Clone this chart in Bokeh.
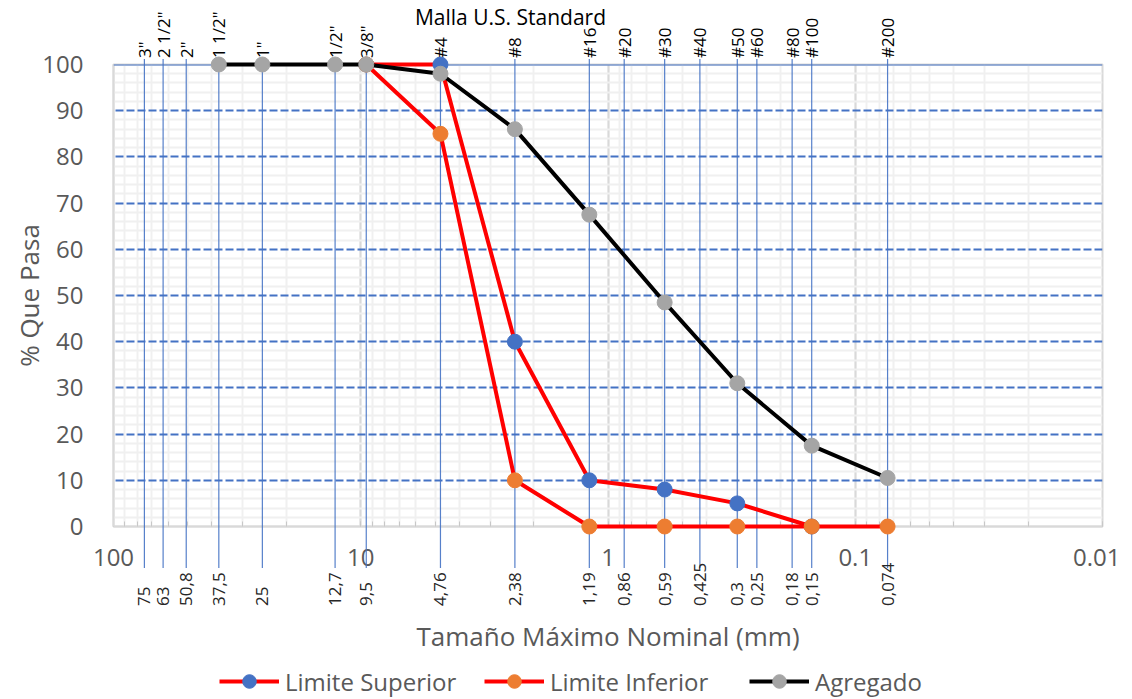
import math
from bokeh.plotting import figure
from bokeh.layouts import column
from bokeh.models import (Range1d, FixedTicker, LogTicker, CustomJSTickFormatter,
                          Legend, LegendItem, Span, ColumnDataSource)
from bokeh.core.properties import value
from bokeh.embed import file_html
from bokeh.resources import INLINE

# ---- data ----
sieve_mm = [75, 63, 50.8, 37.5, 25, 12.7, 9.5, 4.76, 2.38, 1.19, 0.86, 0.59,
            0.425, 0.3, 0.25, 0.18, 0.15, 0.074]
sieve_names = ['3"', '2 1/2"', '2"', '1 1/2"', '1"', '1/2"', '3/8"', '#4', '#8',
               '#16', '#20', '#30', '#40', '#50', '#60', '#80', '#100', '#200']
sieve_mm_labels = ["75", "63", "50,8", "37,5", "25", "12,7", "9,5", "4,76", "2,38",
                   "1,19", "0,86", "0,59", "0,425", "0,3", "0,25", "0,18", "0,15", "0,074"]

sup_x = [9.5, 4.76, 2.38, 1.19, 0.59, 0.3, 0.15]
sup_y = [100, 100, 40, 10, 8, 5, 0]

inf_x = [9.5, 4.76, 2.38, 1.19, 0.59, 0.3, 0.15, 0.074]
inf_y = [100, 85, 10, 0, 0, 0, 0, 0]

agr_x = [37.5, 25, 12.7, 9.5, 4.76, 2.38, 1.19, 0.59, 0.3, 0.15, 0.074]
agr_y = [100, 100, 100, 100, 98, 86, 67.5, 48.5, 31, 17.5, 10.5]

series_names = ["Limite Superior", "Limite Inferior", "Agregado"]
y_ticks = list(range(0, 101, 10))

# ---- styles ----
FONT = "Open Sans"
GREY_TXT = "#595959"
BLUE = "#4472C4"
line_colors = ["#FF0000", "#FF0000", "#000000"]
marker_colors = [BLUE, "#ED7D31", "#A5A5A5"]

# ---- main figure ----
p = figure(width=1120, height=663, x_axis_type="log",
           x_range=Range1d(100, 0.01), y_range=Range1d(0, 100),
           output_backend="svg", toolbar_location=None,
           min_border_left=113, min_border_right=18,
           min_border_top=64, min_border_bottom=137)
p.outline_line_color = "#D9D9D9"
p.outline_line_width = 2
p.background_fill_color = "white"
p.border_fill_color = "white"

# x axis
p.xaxis.ticker = LogTicker(num_minor_ticks=10)
p.xaxis.formatter = CustomJSTickFormatter(code="return String(parseFloat(tick.toPrecision(3)))")
p.xaxis.major_tick_line_color = None
p.xaxis.minor_tick_in = 5
p.xaxis.minor_tick_out = 0
p.xaxis.minor_tick_line_color = "#C8C8C8"
p.xaxis.axis_line_color = "#D9D9D9"
p.xaxis.axis_line_width = 2
p.xaxis.major_label_standoff = 16
p.xaxis.major_label_text_font = FONT
p.xaxis.major_label_text_font_size = "24px"
p.xaxis.major_label_text_color = GREY_TXT
p.xaxis.axis_label = "Tamaño Máximo Nominal (mm)"
p.xaxis.axis_label_text_font = FONT
p.xaxis.axis_label_text_font_size = "26px"
p.xaxis.axis_label_text_font_style = "normal"
p.xaxis.axis_label_text_color = GREY_TXT
p.xaxis.axis_label_standoff = 49

# y axis
p.yaxis.ticker = FixedTicker(ticks=y_ticks)
p.yaxis.major_tick_line_color = None
p.yaxis.minor_tick_line_color = None
p.yaxis.axis_line_color = "#D9D9D9"
p.yaxis.axis_line_width = 2
p.yaxis.major_label_standoff = 24
p.yaxis.major_label_text_font = FONT
p.yaxis.major_label_text_font_size = "24px"
p.yaxis.major_label_text_color = GREY_TXT
p.yaxis.axis_label = "% Que Pasa"
p.yaxis.axis_label_text_font = FONT
p.yaxis.axis_label_text_font_size = "26px"
p.yaxis.axis_label_text_font_style = "normal"
p.yaxis.axis_label_text_color = GREY_TXT
p.yaxis.axis_label_standoff = -8

# grids
p.xgrid.grid_line_color = "#D9D9D9"
p.xgrid.grid_line_width = 2
p.xgrid.minor_grid_line_color = "#F0F0F0"
p.xgrid.minor_grid_line_width = 2
p.ygrid.ticker = FixedTicker(ticks=y_ticks[1:-1],
                             minor_ticks=[v for v in range(2, 100, 2) if v % 10])
p.ygrid.grid_line_color = BLUE
p.ygrid.grid_line_width = 2
p.ygrid.grid_line_dash = "8 3"
p.ygrid.minor_grid_line_color = "#F0F0F0"
p.ygrid.minor_grid_line_width = 2
p.add_layout(Span(location=y_ticks[-1], dimension="width", line_color=BLUE, line_width=2))

# sieve lines and labels
src = ColumnDataSource(dict(x=sieve_mm, name=sieve_names, lab=sieve_mm_labels))
seg = p.segment(x0="x", x1="x", y0=-9, y1=101.2, source=src,
                line_color=BLUE, line_width=1.2, line_alpha=0.9)
seg.level = "annotation"

t1 = p.text(x="x", y=101.4, text="name", source=src, angle=math.pi / 2,
            text_align="left", text_baseline="middle",
            text_font=value(FONT), text_font_size="17px", text_color="#000000")
t1.level = "overlay"
t2 = p.text(x="x", y=-17.2, text="lab", source=src, angle=math.pi / 2,
            text_align="left", text_baseline="middle",
            text_font=value(FONT), text_font_size="17px", text_color="#262626")
t2.level = "overlay"
t3 = p.text(x=[2.48], y=[110.2], text=["Malla U.S. Standard"],
            text_align="center", text_baseline="middle",
            text_font=value(FONT), text_font_size="21px", text_color="#000000")
t3.level = "overlay"

# series
series = [(sup_x, sup_y), (inf_x, inf_y), (agr_x, agr_y)]
for (xs, ys), lc, mc in zip(series, line_colors, marker_colors):
    rl = p.line(xs, ys, line_color=lc, line_width=4)
    rm = p.scatter(xs, ys, size=15, fill_color=mc, line_color=mc)
    rl.level = "overlay"
    rm.level = "overlay"

# ---- legend strip (own small figure, same styles; its swatch renderers
#      hold a single point kept outside the strip's visible range) ----
lf = figure(width=1120, height=36, output_backend="svg", toolbar_location=None,
            x_axis_location=None, y_axis_location=None, min_border=0,
            x_range=Range1d(0, 1), y_range=Range1d(0, 1))
lf.grid.visible = False
lf.outline_line_color = None
items = []
for name, lc, mc in zip(series_names, line_colors, marker_colors):
    gl = lf.line([-5], [-5], line_color=lc, line_width=4)
    gm = lf.scatter([-5], [-5], size=15, fill_color=mc, line_color=mc)
    items.append(LegendItem(label=name, renderers=[gl, gm]))
legend = Legend(items=items, orientation="horizontal", location=(106, 1),
                glyph_width=60, glyph_height=34, label_standoff=6, spacing=18,
                label_width=181, padding=0, margin=0, border_line_color=None,
                background_fill_alpha=0, label_text_font=FONT,
                label_text_font_size="24px", label_text_color=GREY_TXT)
lf.add_layout(legend, "center")

open("out.html", "w").write(file_html(column(p, lf), INLINE))
